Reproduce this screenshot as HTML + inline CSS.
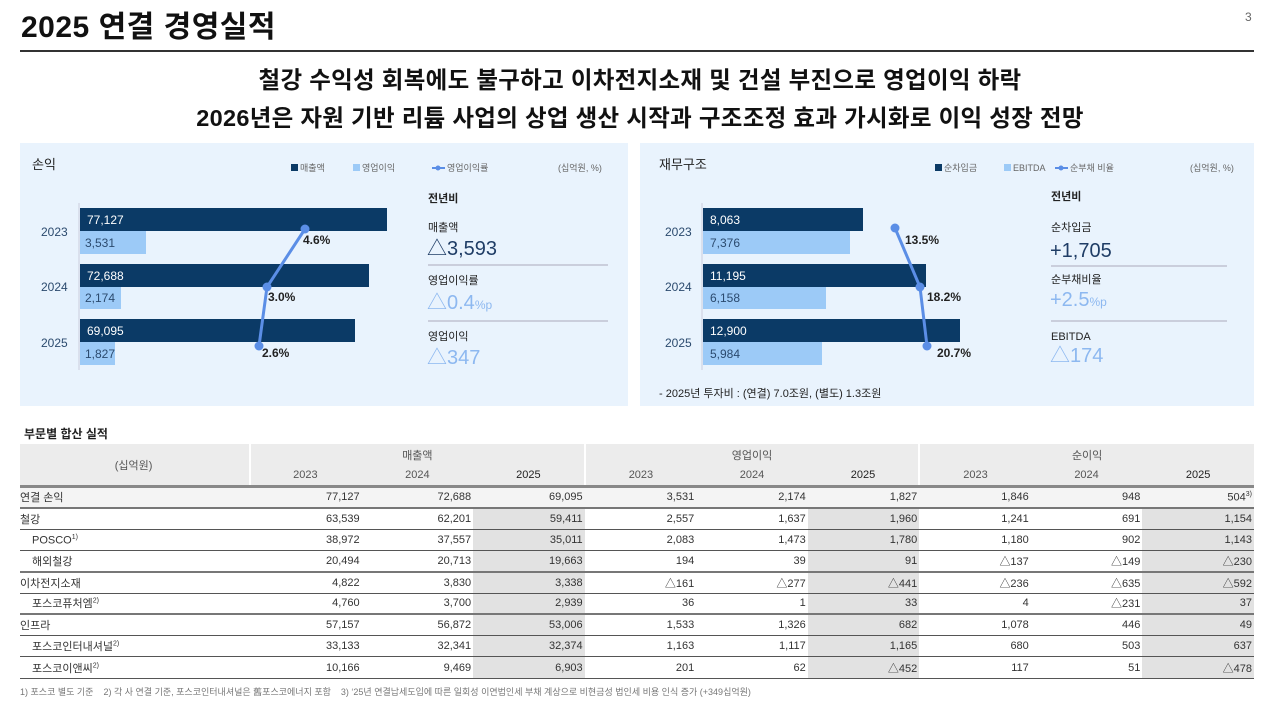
<!DOCTYPE html>
<html><head><meta charset="utf-8"><style>
*{margin:0;padding:0;box-sizing:border-box}
body{width:1280px;height:704px;background:#fff;position:relative;overflow:hidden;font-family:"Liberation Sans","Noto Sans CJK KR",sans-serif;color:#222}
.a{position:absolute;white-space:nowrap}
.panel{position:absolute;background:#e9f3fd}
table{position:absolute;left:20px;top:444px;width:1234px;border-collapse:collapse;font-size:11px;color:#333}
td{height:21.3px;padding:0 2px;text-align:right;border-bottom:1px solid #555}
td:first-child{text-align:left;padding-left:0}
.sh{background:#e2e2e2}
.th td{border:none;background:#ececec;text-align:center;color:#555}
.hd{border-bottom:3px solid #888 !important}
tr.tk td{border-bottom:2px solid #777}
.r1 td{background:#f4f4f4}
.ind{padding-left:12px !important}
sup{font-size:7px}
</style></head><body>
<div class="a" style="left:21px;top:2px;font-size:30px;font-weight:bold;color:#111;letter-spacing:0.5px">2025 연결 경영실적</div>
<div class="a" style="left:1245px;top:10px;font-size:12px;color:#666">3</div>
<div class="a" style="left:20px;top:50px;width:1234px;height:2px;background:#333"></div>
<div class="a" style="left:0;width:1280px;top:61px;text-align:center;font-size:23.5px;font-weight:bold;color:#111;letter-spacing:0.3px">철강 수익성 회복에도 불구하고 이차전지소재 및 건설 부진으로 영업이익 하락</div>
<div class="a" style="left:0;width:1280px;top:99px;text-align:center;font-size:23.5px;font-weight:bold;color:#111;letter-spacing:0.3px">2026년은 자원 기반 리튬 사업의 상업 생산 시작과 구조조정 효과 가시화로 이익 성장 전망</div>

<div class="panel" style="left:20px;top:143px;width:608px;height:263px"></div>
<div class="panel" style="left:640px;top:143px;width:614px;height:263px"></div>

<svg class="a" style="left:0;top:0" width="1280" height="420" font-family="Liberation Sans, Noto Sans CJK KR, sans-serif">
<g font-size="13" fill="#222"><text x="32" y="169">손익</text><text x="659" y="169">재무구조</text></g>
<g font-size="9" fill="#666">
<rect x="291" y="164" width="7" height="7" fill="#0b3a66"/><text x="300" y="171">매출액</text>
<rect x="353" y="164" width="7" height="7" fill="#9ccaf7"/><text x="362" y="171">영업이익</text>
<line x1="432" y1="168" x2="445" y2="168" stroke="#5b8ee6" stroke-width="2"/><circle cx="438" cy="168" r="2.5" fill="#5b8ee6"/><text x="447" y="171">영업이익률</text>
<text x="558" y="171">(십억원, %)</text>
<rect x="935" y="164" width="7" height="7" fill="#0b3a66"/><text x="944" y="171">순차입금</text>
<rect x="1004" y="164" width="7" height="7" fill="#9ccaf7"/><text x="1013" y="171">EBITDA</text>
<line x1="1055" y1="168" x2="1068" y2="168" stroke="#5b8ee6" stroke-width="2"/><circle cx="1061" cy="168" r="2.5" fill="#5b8ee6"/><text x="1070" y="171">순부채 비율</text>
<text x="1190" y="171">(십억원, %)</text>
</g>
<line x1="79" y1="203" x2="79" y2="370" stroke="#ccd" />
<line x1="702" y1="203" x2="702" y2="370" stroke="#ccd" />
<g fill="#0b3a66">
<rect x="80" y="208" width="307" height="23"/><rect x="80" y="264" width="289" height="23"/><rect x="80" y="319" width="275" height="23"/>
<rect x="703" y="208" width="160" height="23"/><rect x="703" y="264" width="223" height="23"/><rect x="703" y="319" width="257" height="23"/>
</g>
<g fill="#9ccaf7">
<rect x="80" y="231" width="66" height="23"/><rect x="80" y="287" width="41" height="22"/><rect x="80" y="342" width="35" height="23"/>
<rect x="703" y="231" width="147" height="23"/><rect x="703" y="287" width="123" height="22"/><rect x="703" y="342" width="119" height="23"/>
</g>
<g font-size="12" fill="#fff"><text x="87" y="224">77,127</text><text x="87" y="280">72,688</text><text x="87" y="335">69,095</text>
<text x="710" y="224">8,063</text><text x="710" y="280">11,195</text><text x="710" y="335">12,900</text></g>
<g font-size="12" fill="#2b4a6e"><text x="85" y="247">3,531</text><text x="85" y="302">2,174</text><text x="85" y="358">1,827</text>
<text x="710" y="247">7,376</text><text x="710" y="302">6,158</text><text x="710" y="358">5,984</text>
<text x="41" y="236">2023</text><text x="41" y="291">2024</text><text x="41" y="347">2025</text>
<text x="665" y="236">2023</text><text x="665" y="291">2024</text><text x="665" y="347">2025</text></g>
<polyline points="305,229 267,287 259,346" fill="none" stroke="#5b8ee6" stroke-width="3"/>
<polyline points="895,228 920,287 927,346" fill="none" stroke="#5b8ee6" stroke-width="3"/>
<g fill="#5b8ee6"><circle cx="305" cy="229" r="4.5"/><circle cx="267" cy="287" r="4.5"/><circle cx="259" cy="346" r="4.5"/>
<circle cx="895" cy="228" r="4.5"/><circle cx="920" cy="287" r="4.5"/><circle cx="927" cy="346" r="4.5"/></g>
<g font-size="12" font-weight="bold" fill="#222"><text x="303" y="244">4.6%</text><text x="268" y="301">3.0%</text><text x="262" y="357">2.6%</text>
<text x="905" y="244">13.5%</text><text x="927" y="301">18.2%</text><text x="937" y="357">20.7%</text></g>
<g font-size="11" fill="#222"><text x="428" y="202" font-weight="bold">전년비</text><text x="428" y="231">매출액</text><text x="428" y="284">영업이익률</text><text x="428" y="340">영업이익</text>
<text x="1051" y="200" font-weight="bold">전년비</text><text x="1051" y="231">순차입금</text><text x="1051" y="283">순부채비율</text><text x="1051" y="340">EBITDA</text>
<text x="659" y="397">- 2025년 투자비 : (연결) 7.0조원, (별도) 1.3조원</text></g>
<g stroke="#aab" stroke-width="1"><line x1="428" y1="265" x2="608" y2="265"/><line x1="428" y1="321" x2="608" y2="321"/><line x1="1051" y1="266" x2="1227" y2="266"/><line x1="1051" y1="321" x2="1227" y2="321"/></g>
<g font-size="20"><text x="427" y="255" fill="#1f3d66">△3,593</text><text x="427" y="309" fill="#8db8f0">△0.4<tspan font-size="12">%p</tspan></text><text x="427" y="364" fill="#8db8f0">△347</text>
<text x="1050" y="257" fill="#1f3d66">+1,705</text><text x="1050" y="306" fill="#8db8f0">+2.5<tspan font-size="12">%p</tspan></text><text x="1050" y="362" fill="#8db8f0">△174</text></g>
</svg>

<div class="a" style="left:24px;top:425px;font-size:12px;font-weight:bold;color:#222">부문별 합산 실적</div>
<table>
<colgroup><col style="width:230px"><col span="9" style="width:111.5px"></colgroup>
<tr class="th"><td rowspan="2" class="hd" style="text-align:center;border-right:2px solid #fff">(십억원)</td><td colspan="3" style="height:21px;border-right:2px solid #fff">매출액</td><td colspan="3" style="border-right:2px solid #fff">영업이익</td><td colspan="3">순이익</td></tr>
<tr class="th"><td class="hd">2023</td><td class="hd">2024</td><td class="hd" style="color:#222;border-right:2px solid #fff !important">2025</td><td class="hd">2023</td><td class="hd">2024</td><td class="hd" style="color:#222;border-right:2px solid #fff !important">2025</td><td class="hd">2023</td><td class="hd">2024</td><td class="hd" style="color:#222">2025</td></tr>
<tr class="r1 tk"><td>연결 손익</td><td>77,127</td><td>72,688</td><td>69,095</td><td>3,531</td><td>2,174</td><td>1,827</td><td>1,846</td><td>948</td><td>504<sup>3)</sup></td></tr>
<tr><td>철강</td><td>63,539</td><td>62,201</td><td class="sh">59,411</td><td>2,557</td><td>1,637</td><td class="sh">1,960</td><td>1,241</td><td>691</td><td class="sh">1,154</td></tr>
<tr><td class="ind">POSCO<sup>1)</sup></td><td>38,972</td><td>37,557</td><td class="sh">35,011</td><td>2,083</td><td>1,473</td><td class="sh">1,780</td><td>1,180</td><td>902</td><td class="sh">1,143</td></tr>
<tr class="tk"><td class="ind">해외철강</td><td>20,494</td><td>20,713</td><td class="sh">19,663</td><td>194</td><td>39</td><td class="sh">91</td><td>△137</td><td>△149</td><td class="sh">△230</td></tr>
<tr><td>이차전지소재</td><td>4,822</td><td>3,830</td><td class="sh">3,338</td><td>△161</td><td>△277</td><td class="sh">△441</td><td>△236</td><td>△635</td><td class="sh">△592</td></tr>
<tr class="tk"><td class="ind">포스코퓨처엠<sup>2)</sup></td><td>4,760</td><td>3,700</td><td class="sh">2,939</td><td>36</td><td>1</td><td class="sh">33</td><td>4</td><td>△231</td><td class="sh">37</td></tr>
<tr><td>인프라</td><td>57,157</td><td>56,872</td><td class="sh">53,006</td><td>1,533</td><td>1,326</td><td class="sh">682</td><td>1,078</td><td>446</td><td class="sh">49</td></tr>
<tr><td class="ind">포스코인터내셔널<sup>2)</sup></td><td>33,133</td><td>32,341</td><td class="sh">32,374</td><td>1,163</td><td>1,117</td><td class="sh">1,165</td><td>680</td><td>503</td><td class="sh">637</td></tr>
<tr><td class="ind">포스코이앤씨<sup>2)</sup></td><td>10,166</td><td>9,469</td><td class="sh">6,903</td><td>201</td><td>62</td><td class="sh">△452</td><td>117</td><td>51</td><td class="sh">△478</td></tr>
</table>
<div class="a" style="left:20px;top:685px;font-size:9px;color:#777">1) 포스코 별도 기준 &nbsp;&nbsp; 2) 각 사 연결 기준, 포스코인터내셔널은 舊포스코에너지 포함 &nbsp;&nbsp; 3) ‘25년 연결납세도입에 따른 일회성 이연법인세 부채 계상으로 비현금성 법인세 비용 인식 증가 (+349십억원)</div>
</body></html>
